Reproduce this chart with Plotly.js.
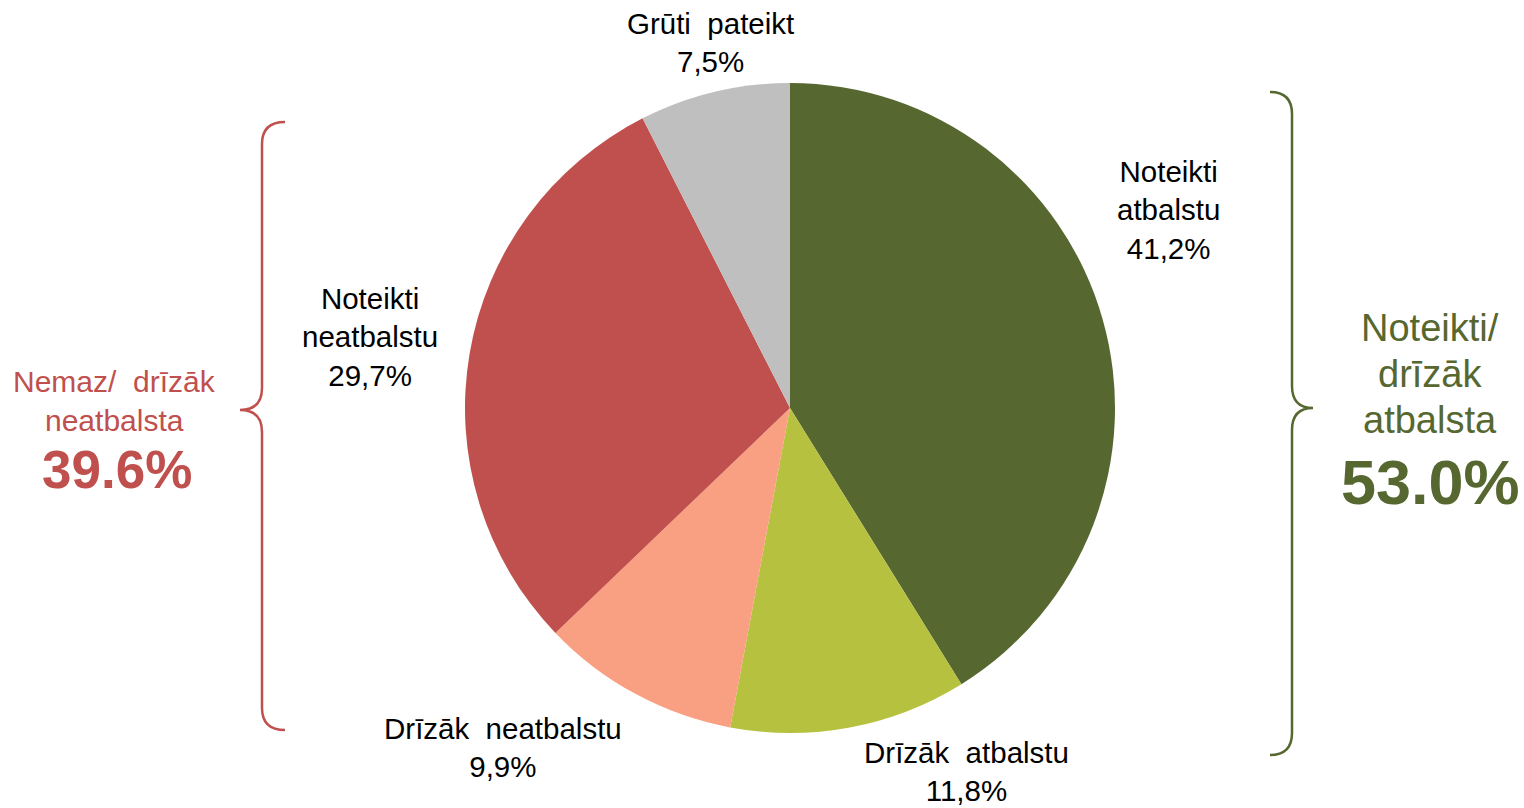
<!DOCTYPE html>
<html>
<head>
<meta charset="utf-8">
<script src="https://cdn.plot.ly/plotly-3.0.1.min.js"></script>
<style>html,body{margin:0;padding:0;background:#fff;}#chart{width:1524px;height:808px;}</style>
</head>
<body>
<div id="chart"></div>
<script>
// ---- data ----
const categories = ["Noteikti atbalstu", "Drīzāk atbalstu", "Drīzāk neatbalstu", "Noteikti neatbalstu", "Grūti pateikt"];
const labelLines = [["Noteikti", "atbalstu"], ["Drīzāk\u00A0 atbalstu"], ["Drīzāk\u00A0 neatbalstu"], ["Noteikti", "neatbalstu"], ["Grūti\u00A0 pateikt"]];
const values = [41.2, 11.8, 9.9, 29.7, 7.5];
const colors = ["#566730", "#B6C23F", "#F99F82", "#C0504D", "#BFBFBF"];
const supportGroup = ["Noteikti/", "drīzāk", "atbalsta"];
const opposeGroup = ["Nemaz/\u00A0 drīzāk", "neatbalsta"];
const supportColor = "#566730";
const opposeColor = "#C0504D";

// ---- layout helpers (pixel -> paper) ----
const W = 1524, H = 808;
const px = x => x / W;
const py = y => 1 - y / H;

const fmt = v => v.toFixed(1).replace('.', ',') + '%';
const supportTotal = values[0] + values[1];
const opposeTotal = values[2] + values[3];

const cx = 790, cy = 408, R = 325;

const trace = {
  type: 'pie',
  values: values,
  labels: categories,
  marker: {colors: colors, line: {width: 0}},
  sort: false,
  direction: 'clockwise',
  rotation: 0,
  textinfo: 'none',
  hoverinfo: 'label+percent',
  showlegend: false,
  domain: {x: [px(cx - R), px(cx + R)], y: [py(cy + R), py(cy - R)]}
};

// label positions (pixel centers)
const labelPos = [[1168, 210], [967, 771], [503, 747], [370, 337], [710, 42]];

const annotations = [];
const baseFont = {family: 'Liberation Sans, Arial, sans-serif', size: 29.5, color: '#000'};
categories.forEach((c, i) => {
  const txt = labelLines[i].concat([fmt(values[i])]).join('<br>');
  annotations.push({
    x: px(labelPos[i][0]), y: py(labelPos[i][1]), xref: 'paper', yref: 'paper',
    text: txt, showarrow: false, xanchor: 'center', yanchor: 'middle',
    font: baseFont, align: 'center'
  });
});

function addLines(lines, xc, ys, size, color, bold) {
  lines.forEach((t, i) => {
    annotations.push({
      x: px(xc), y: py(ys[i]), xref: 'paper', yref: 'paper',
      text: bold ? '<b>' + t + '</b>' : t, showarrow: false,
      xanchor: 'center', yanchor: 'middle',
      font: {family: 'Liberation Sans, Arial, sans-serif', size: size, color: color}
    });
  });
}
addLines(opposeGroup, 114, [381, 420], 30, opposeColor, false);
addLines([opposeTotal.toFixed(1) + '%'], 117, [470], 53, opposeColor, true);
addLines(supportGroup, 1430, [328, 374, 420], 38, supportColor, false);
addLines([supportTotal.toFixed(1) + '%'], 1430, [482], 63, supportColor, true);

function bracePath(xTip, xLine, xEnd, yTop, yMid, yBot, r) {
  const P = (x, y) => px(x) + ',' + py(y);
  return 'M' + P(xEnd, yTop) +
    ' Q' + P(xLine, yTop) + ' ' + P(xLine, yTop + r) +
    ' L' + P(xLine, yMid - r) +
    ' Q' + P(xLine, yMid) + ' ' + P(xTip, yMid) +
    ' Q' + P(xLine, yMid) + ' ' + P(xLine, yMid + r) +
    ' L' + P(xLine, yBot - r) +
    ' Q' + P(xLine, yBot) + ' ' + P(xEnd, yBot);
}

const shapes = [
  {type: 'path', xref: 'paper', yref: 'paper', path: bracePath(240, 262, 285, 122, 410, 730, 22), line: {color: opposeColor, width: 2.5}},
  {type: 'path', xref: 'paper', yref: 'paper', path: bracePath(1313, 1292, 1270, 92, 408, 755, 22), line: {color: supportColor, width: 2.5}}
];

const layout = {
  width: W, height: H,
  margin: {l: 0, r: 0, t: 0, b: 0},
  paper_bgcolor: '#fff', plot_bgcolor: '#fff',
  annotations: annotations,
  shapes: shapes
};

Plotly.newPlot('chart', [trace], layout, {displayModeBar: false, staticPlot: true});
</script>
</body>
</html>
